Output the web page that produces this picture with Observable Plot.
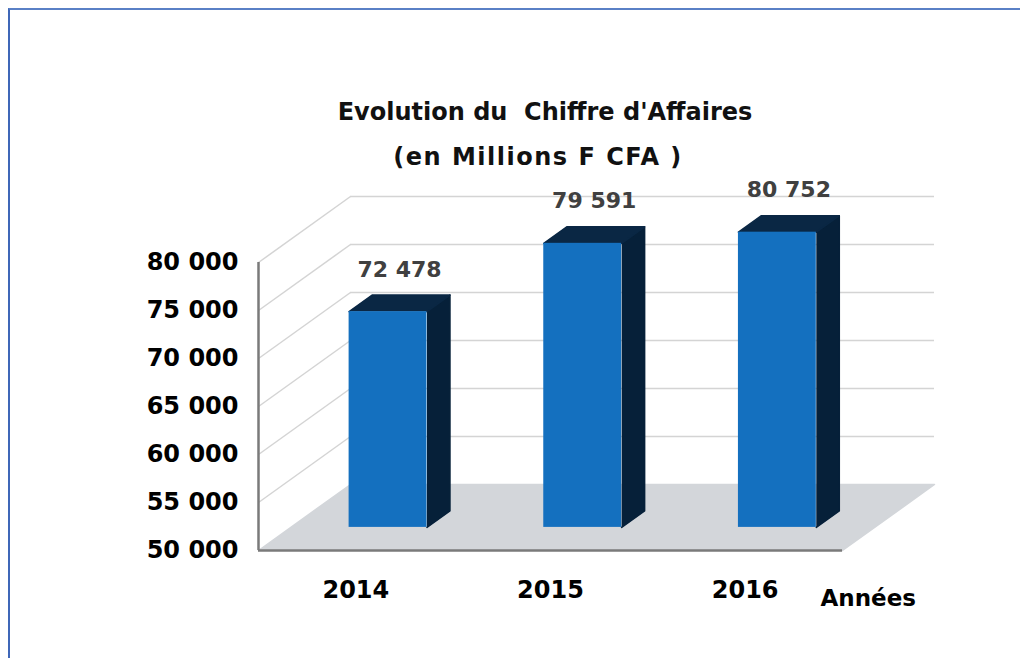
<!DOCTYPE html>
<html>
<head>
<meta charset="utf-8">
<script src="https://cdn.jsdelivr.net/npm/d3@7"></script>
<script src="https://cdn.jsdelivr.net/npm/@observablehq/plot@0.6"></script>
<style>
  html, body { margin: 0; padding: 0; background: #fff; }
  #page { position: relative; width: 1020px; height: 658px; overflow: hidden; background: #fff; }
  #frame { position: absolute; left: 8px; top: 8px; width: 1020px; height: 660px;
           border-top: 2px solid #5a80c6; border-left: 2px solid #3f67b8; }
  .title { position: absolute; transform: translate(-50%, -50%); white-space: pre;
           font-family: "DejaVu Sans", sans-serif; font-weight: bold; font-size: 24px; color: #111; }
  #chart { position: absolute; left: 0; top: 180px; }
</style>
</head>
<body>
<div id="page">
  <div id="frame"></div>
  <div class="title" id="t1" style="left:545px; top:112px;"></div>
  <div class="title" id="t2" style="left:538px; top:157px; letter-spacing:1.5px;"></div>
  <div id="chart"></div>
</div>
<script>
// ---- data ----
const years = [2014, 2015, 2016];
const values = [72478, 79591, 80752];
const yTicks = [50000, 55000, 60000, 65000, 70000, 75000, 80000];
const titleLines = ["Evolution du  Chiffre d'Affaires", "(en Millions F CFA )"];
const xAxisName = "Années";

// ---- layout ----
const W = 1020, H = 478;
const M = {top: 82, right: 178, bottom: 108, left: 258};
const X_DOMAIN = [2013.5, 2016.5];
const Y_DOMAIN = [50000, 80000];
const pxX = (W - M.left - M.right) / (X_DOMAIN[1] - X_DOMAIN[0]);
const pxY = (H - M.top - M.bottom) / (Y_DOMAIN[1] - Y_DOMAIN[0]);
const DEPTH = [92, 66];               // pixel shift of the back wall
const BAR_HALF = 0.2;                 // half bar width in x units
const BAR_D0 = 0.35, BAR_D1 = 0.6;    // bar front / back depth fractions

function P(x, y, d) { return {x: x + d * DEPTH[0] / pxX, y: y + d * DEPTH[1] / pxY}; }
const fmt = v => d3.format(",")(v).replace(/,/g, " ");

document.getElementById("t1").textContent = titleLines[0];
document.getElementById("t2").textContent = titleLines[1];

// floor polygon
const floor = [
  P(X_DOMAIN[0], Y_DOMAIN[0], 0), P(X_DOMAIN[0], Y_DOMAIN[0], 1),
  P(X_DOMAIN[1], Y_DOMAIN[0], 1), P(X_DOMAIN[1], Y_DOMAIN[0], 0)
].map(p => ({...p, id: "floor"}));

// back wall gridlines
const backGrid = yTicks.filter(t => t > Y_DOMAIN[0]).map(t => {
  const a = P(X_DOMAIN[0], t, 1), b = P(X_DOMAIN[1], t, 1);
  return {x1: a.x, x2: b.x, y: a.y};
});
// side wall diagonals
const sideGrid = yTicks.filter(t => t > Y_DOMAIN[0]).map(t => {
  const a = P(X_DOMAIN[0], t, 0), b = P(X_DOMAIN[0], t, 1);
  return {x1: a.x, y1: a.y, x2: b.x, y2: b.y};
});

// bars
const fronts = [], sides = [], tops = [], labels = [];
years.forEach((yr, i) => {
  const v = values[i];
  const fl = P(yr - BAR_HALF, Y_DOMAIN[0], BAR_D0), fr = P(yr + BAR_HALF, v, BAR_D0);
  fronts.push({x1: fl.x, x2: fr.x, y1: fl.y, y2: fr.y});
  [P(yr + BAR_HALF, Y_DOMAIN[0], BAR_D0), P(yr + BAR_HALF, Y_DOMAIN[0], BAR_D1),
   P(yr + BAR_HALF, v, BAR_D1), P(yr + BAR_HALF, v, BAR_D0)]
    .forEach(p => sides.push({...p, id: "s" + yr}));
  [P(yr - BAR_HALF, v, BAR_D0), P(yr - BAR_HALF, v, BAR_D1),
   P(yr + BAR_HALF, v, BAR_D1), P(yr + BAR_HALF, v, BAR_D0)]
    .forEach(p => tops.push({...p, id: "t" + yr}));
  const lp = P(yr, v, (BAR_D0 + BAR_D1) / 2);
  const lf = P(yr, v, BAR_D0);
  labels.push({x: lp.x, y: lf.y, text: fmt(v)});
});

const chart = Plot.plot({
  width: W, height: H,
  marginTop: M.top, marginRight: M.right, marginBottom: M.bottom, marginLeft: M.left,
  style: {fontFamily: "DejaVu Sans, sans-serif", fontSize: "24px", fontWeight: "bold", color: "#000", background: "transparent", overflow: "visible"},
  x: {type: "linear", domain: X_DOMAIN, ticks: years, tickFormat: d => String(d), tickSize: 0, tickPadding: 30, label: null},
  y: {domain: Y_DOMAIN, ticks: yTicks, tickFormat: fmt, tickSize: 0, tickPadding: 20, label: null},
  marks: [
    Plot.line(floor, {x: "x", y: "y", z: "id", fill: "#d3d6da", stroke: "#d3d6da"}),
    Plot.ruleY(backGrid, {y: "y", x1: "x1", x2: "x2", stroke: "#d4d4d4", strokeWidth: 1.5}),
    Plot.link(sideGrid, {x1: "x1", y1: "y1", x2: "x2", y2: "y2", stroke: "#d4d4d4", strokeWidth: 1.5}),
    Plot.line(sides, {x: "x", y: "y", z: "id", fill: "#062039", stroke: "#062039"}),
    Plot.line(tops, {x: "x", y: "y", z: "id", fill: "#0a2744", stroke: "#0a2744"}),
    Plot.rect(fronts, {x1: "x1", x2: "x2", y1: "y1", y2: "y2", fill: "#1470bf"}),
    Plot.ruleX([X_DOMAIN[0]], {y1: Y_DOMAIN[0], y2: Y_DOMAIN[1], stroke: "#7a7a7a", strokeWidth: 2.5}),
    Plot.ruleY([Y_DOMAIN[0]], {x1: X_DOMAIN[0], x2: X_DOMAIN[1], stroke: "#7a7a7a", strokeWidth: 2.5}),
    Plot.text(labels, {x: "x", y: "y", text: "text", dy: -42, fill: "#404040", fontSize: 22, fontWeight: "bold"}),
    Plot.text([xAxisName], {frameAnchor: "bottom-right", textAnchor: "start", lineAnchor: "middle", dx: -22, dy: 48, fill: "#000", fontSize: 23, fontWeight: "bold"})
  ]
});
document.getElementById("chart").appendChild(chart);
</script>
</body>
</html>
